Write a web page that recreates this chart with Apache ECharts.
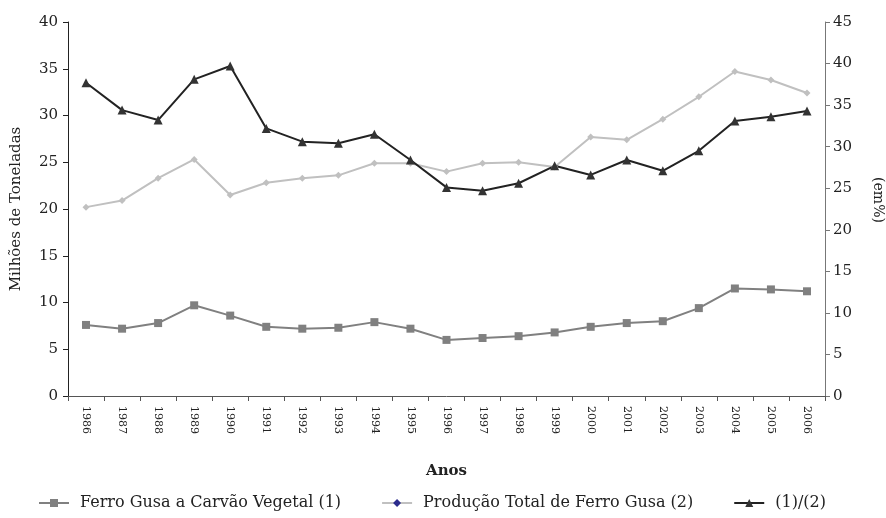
<!DOCTYPE html>
<html>
<head>
<meta charset="utf-8">
<script src="https://cdn.jsdelivr.net/npm/echarts@6/dist/echarts.min.js"></script>
<style>
    html, body { margin: 0; padding: 0; background: #fff; }
    #chart { width: 886px; height: 518px; }
</style>
</head>
<body>
<div id="chart"></div>
<script>
// anos
var anos = ["1986", "1987", "1988", "1989", "1990", "1991", "1992", "1993", "1994", "1995", "1996",
    "1997", "1998", "1999", "2000", "2001", "2002", "2003", "2004", "2005", "2006"];
// Ferro Gusa a Carvão Vegetal (1) - milhões de toneladas
var carvaoVegetal = [7.6, 7.2, 7.8, 9.7, 8.6, 7.4, 7.2, 7.3, 7.9, 7.2, 6.0,
    6.2, 6.4, 6.8, 7.4, 7.8, 8.0, 9.4, 11.5, 11.4, 11.2];
// Produção Total de Ferro Gusa (2) - milhões de toneladas
var producaoTotal = [20.2, 20.9, 23.3, 25.3, 21.5, 22.8, 23.3, 23.6, 24.9, 24.9, 24.0,
    24.9, 25.0, 24.5, 27.7, 27.4, 29.6, 32.0, 34.7, 33.8, 32.4];
// (1)/(2) em %
var razao = [37.7, 34.4, 33.2, 38.1, 39.7, 32.2, 30.6, 30.4, 31.5, 28.4, 25.1,
    24.7, 25.6, 27.7, 26.6, 28.4, 27.1, 29.5, 33.1, 33.6, 34.3];

var fonte = "DejaVu Serif";

var chart = echarts.init(document.getElementById("chart"));
chart.setOption({
    animation: false,
    textStyle: { fontFamily: fonte, color: "#222" },
    grid: { left: 68, right: 61, top: 22, bottom: 122, containLabel: false, outerBoundsMode: "none" },
    legend: {
        bottom: 2,
        left: 33,
        itemWidth: 30,
        itemHeight: 10,
        itemGap: 40,
        textStyle: { fontFamily: fonte, fontSize: 16, color: "#222", padding: [0, 0, 0, 6] },
        data: [
            { name: "Ferro Gusa a Carvão Vegetal (1)" },
            { name: "Produção Total de Ferro Gusa (2)", itemStyle: { color: "#2b2b8c" } },
            { name: "(1)/(2)" }
        ]
    },
    xAxis: {
        type: "category",
        data: anos,
        name: "Anos",
        nameLocation: "middle",
        nameGap: 68,
        nameTextStyle: { fontFamily: fonte, fontSize: 15, fontWeight: "bold", color: "#222" },
        axisLine: { lineStyle: { color: "#555", width: 1 } },
        axisTick: { show: true, length: 5, lineStyle: { color: "#555" } },
        axisLabel: { rotate: -90, fontSize: 11, color: "#222", margin: 10 },
        splitLine: { show: false }
    },
    yAxis: [
        {
            type: "value",
            min: 0, max: 40, interval: 5,
            name: "Milhões de Toneladas",
            nameLocation: "middle",
            nameGap: 44,
            nameRotate: 90,
            nameTextStyle: { fontFamily: fonte, fontSize: 15, color: "#222" },
            axisLine: { show: true, lineStyle: { color: "#222" } },
            axisTick: { show: true, length: 5, lineStyle: { color: "#222" } },
            axisLabel: { fontSize: 15, color: "#222", margin: 10 },
            splitLine: { show: false }
        },
        {
            type: "value",
            min: 0, max: 45, interval: 5,
            position: "right",
            name: "(em%)",
            nameLocation: "middle",
            nameGap: 46,
            nameRotate: -90,
            nameTextStyle: { fontFamily: fonte, fontSize: 14, color: "#222", padding: [0, 18, 0, 0] },
            axisLine: { show: true, lineStyle: { color: "#777" } },
            axisTick: { show: true, length: 5, lineStyle: { color: "#777" } },
            axisLabel: { fontSize: 15, color: "#222", margin: 8 },
            splitLine: { show: false }
        }
    ],
    series: [
        {
            name: "Ferro Gusa a Carvão Vegetal (1)",
            type: "line",
            yAxisIndex: 0,
            data: carvaoVegetal,
            symbol: "rect",
            symbolSize: 8,
            itemStyle: { color: "#808080" },
            lineStyle: { color: "#808080", width: 2 }
        },
        {
            name: "Produção Total de Ferro Gusa (2)",
            type: "line",
            yAxisIndex: 0,
            data: producaoTotal,
            symbol: "diamond",
            symbolSize: 7,
            itemStyle: { color: "#c0c0c0" },
            lineStyle: { color: "#c0c0c0", width: 2 }
        },
        {
            name: "(1)/(2)",
            type: "line",
            yAxisIndex: 1,
            data: razao,
            symbol: "triangle",
            symbolSize: 9,
            itemStyle: { color: "#333" },
            lineStyle: { color: "#222", width: 2 }
        }
    ]
});
</script>
</body>
</html>
